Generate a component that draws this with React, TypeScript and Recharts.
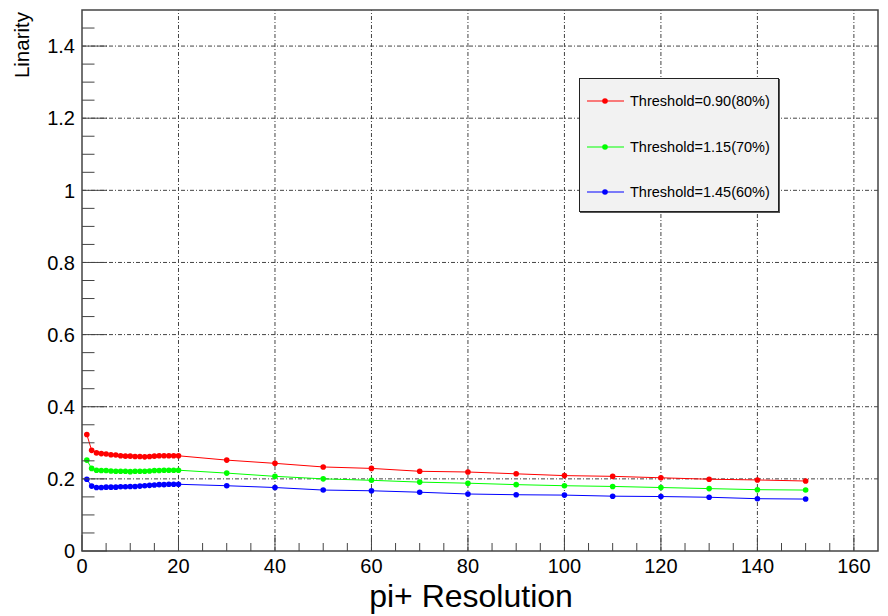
import React from 'react'
import { LineChart, Line, XAxis, YAxis, ReferenceLine, ReferenceArea, Legend, Label } from 'recharts'

// x positions: fine scan 1..20, then every 10 up to 150
const xs = [1, 2, 3, 4, 5, 6, 7, 8, 9, 10, 11, 12, 13, 14, 15, 16, 17, 18, 19, 20, 30, 40, 50, 60, 70, 80, 90, 100, 110, 120, 130, 140, 150]

const thr090 = [0.323, 0.279, 0.272, 0.270, 0.269, 0.267, 0.266, 0.264, 0.263, 0.263, 0.262, 0.262, 0.261, 0.262, 0.263, 0.264, 0.264, 0.264, 0.264, 0.264,
  0.252, 0.243, 0.233, 0.229, 0.221, 0.219, 0.214, 0.209, 0.207, 0.203, 0.199, 0.197, 0.194]
const thr115 = [0.252, 0.229, 0.224, 0.223, 0.223, 0.222, 0.221, 0.221, 0.221, 0.220, 0.221, 0.221, 0.221, 0.222, 0.223, 0.223, 0.224, 0.224, 0.224, 0.224,
  0.216, 0.207, 0.200, 0.196, 0.191, 0.188, 0.184, 0.181, 0.179, 0.176, 0.173, 0.170, 0.169]
const thr145 = [0.199, 0.180, 0.176, 0.176, 0.177, 0.177, 0.177, 0.178, 0.178, 0.179, 0.179, 0.180, 0.181, 0.182, 0.183, 0.184, 0.184, 0.185, 0.185, 0.185,
  0.181, 0.176, 0.169, 0.167, 0.163, 0.158, 0.156, 0.155, 0.152, 0.151, 0.149, 0.145, 0.144]

const seriesNames = ['Threshold=0.90(80%)', 'Threshold=1.15(70%)', 'Threshold=1.45(60%)']
const seriesColors = ['#ff0000', '#00ff00', '#0000ff']

const xTicks = [0, 5, 10, 15, 20, 25, 30, 35, 40, 45, 50, 55, 60, 65, 70, 75, 80, 85, 90, 95, 100, 105, 110, 115, 120, 125, 130, 135, 140, 145, 150, 155, 160]
const xMajor = [20, 40, 60, 80, 100, 120, 140, 160]
const yTicks = [0, 0.05, 0.1, 0.15, 0.2, 0.25, 0.3, 0.35, 0.4, 0.45, 0.5, 0.55, 0.6, 0.65, 0.7, 0.75, 0.8, 0.85, 0.9, 0.95, 1, 1.05, 1.1, 1.15, 1.2, 1.25, 1.3, 1.35, 1.4, 1.45]
const yMajor = [0.2, 0.4, 0.6, 0.8, 1, 1.2, 1.4]

const W = 880
const H = 608
const PLOT = { left: 74, top: 2, right: 870, bottom: 543 }
const FONT = 'Liberation Sans, Arial, Helvetica, sans-serif'
const AXIS = '#444'
const GRID_DASH = '4 2 1 2'

const rows = xs.map((x, i) => ({ x, s0: thr090[i], s1: thr115[i], s2: thr145[i] }))

const isMajorX = (v: number) => v % 20 === 0
const isMajorY = (v: number) => Math.round(v * 100) % 20 === 0

function XTick(props: any) {
  const { x, payload } = props
  const v = payload.value
  const major = isMajorX(v)
  return (
    <g>
      <line x1={x} x2={x} y1={PLOT.bottom} y2={PLOT.bottom - (major ? 16 : 8)} stroke={AXIS} strokeWidth={1} />
      {major || v === 0 ? (
        <text x={x} y={PLOT.bottom + 22} textAnchor="middle" fontFamily={FONT} fontSize={20} fill="#000">{v}</text>
      ) : null}
    </g>
  )
}

function YTick(props: any) {
  const { y, payload } = props
  const v = payload.value
  const major = v === 0 || isMajorY(v)
  return (
    <g>
      <line x1={PLOT.left} x2={PLOT.left + (major ? 25 : 12.5)} y1={y} y2={y} stroke={AXIS} strokeWidth={1} />
      {major ? (
        <text x={PLOT.left - 7} y={y} dy="0.36em" textAnchor="end" fontFamily={FONT} fontSize={20} fill="#000">
          {String(Number(v.toFixed(1)))}
        </text>
      ) : null}
    </g>
  )
}

function LegendBox() {
  return (
    <div style={{
      width: 200, height: 134, boxSizing: 'border-box', background: '#f2f2f2',
      border: '1px solid #222', boxShadow: '1px 1px 0 #555', position: 'relative', fontFamily: FONT,
    }}>
      {seriesNames.map((name, i) => (
        <div key={name} style={{ position: 'absolute', left: 0, top: 22 + i * 45.5 - 10, height: 20, display: 'flex', alignItems: 'center' }}>
          <svg width={50} height={20} style={{ display: 'block' }}>
            <line x1={7} x2={44} y1={10} y2={10} stroke={seriesColors[i]} strokeWidth={1} />
            <circle cx={25} cy={10} r={2.8} fill={seriesColors[i]} />
          </svg>
          <span style={{ fontSize: 14.5, color: '#000', whiteSpace: 'nowrap' }}>{name}</span>
        </div>
      ))}
    </div>
  )
}

export default function App() {
  return (
    <LineChart width={W} height={H} data={rows} margin={{ top: PLOT.top, right: W - PLOT.right, left: 0, bottom: 0 }}>
      <XAxis
        dataKey="x" type="number" domain={[0, 165]} ticks={xTicks} interval={0}
        height={H - PLOT.bottom} axisLine={false} tickLine={false} tick={<XTick />}
      >
        <Label content={(p: any) => {
          const vb = p.viewBox
          return (
            <text x={vb.x + vb.width / 2 - 9} y={PLOT.bottom + 56} textAnchor="middle" fontFamily={FONT} fontSize={32} fill="#000">
              pi+ Resolution
            </text>
          )
        }} />
      </XAxis>
      <YAxis
        type="number" domain={[0, 1.5]} ticks={yTicks} interval={0}
        width={PLOT.left} axisLine={false} tickLine={false} tick={<YTick />}
      >
        <Label content={() => (
          <text transform={`translate(21, 4) rotate(-90)`} textAnchor="end" fontFamily={FONT} fontSize={20.5} fill="#000">
            Linarity
          </text>
        )} />
      </YAxis>

      {xMajor.map(v => (
        <ReferenceLine key={'gx' + v} x={v} stroke={AXIS} strokeWidth={1} strokeDasharray={GRID_DASH} />
      ))}
      {yMajor.map(v => (
        <ReferenceLine key={'gy' + v} y={v} stroke={AXIS} strokeWidth={1} strokeDasharray={GRID_DASH} />
      ))}
      <ReferenceArea x1={0} x2={165} y1={0} y2={1.5} fill="none" fillOpacity={0} stroke={AXIS} strokeWidth={1.5} />

      {['s0', 's1', 's2'].map((key, i) => (
        <Line
          key={key} dataKey={key} name={seriesNames[i]} type="linear"
          stroke={seriesColors[i]} strokeWidth={1}
          dot={{ r: 2.8, fill: seriesColors[i], stroke: seriesColors[i], strokeWidth: 0 }}
          activeDot={false} isAnimationActive={false}
        />
      ))}

      <Legend
        layout="vertical" align="center" verticalAlign="middle"
        content={<LegendBox />}
        wrapperStyle={{ position: 'absolute', left: 571, top: 70, width: 200, height: 134 }}
      />
    </LineChart>
  )
}
